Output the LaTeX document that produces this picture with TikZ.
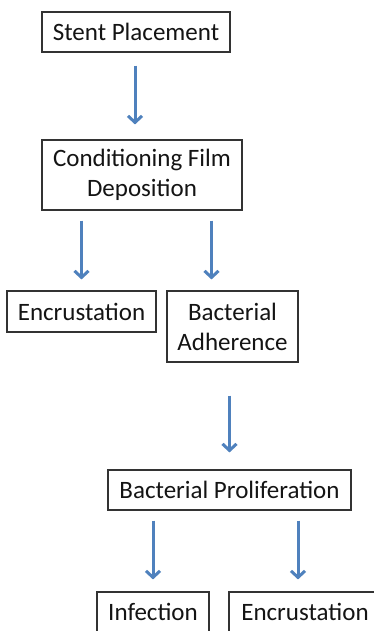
\documentclass[tikz,border=0pt]{standalone}
\usepackage{fontspec}
\setmainfont{Carlito}
\usetikzlibrary{arrows.meta,calc}
\definecolor{arrblue}{HTML}{4F81BD}
\tikzset{
  box/.style={draw=black!80, line width=1.1pt, fill=white, inner sep=0pt, align=center,
    font=\fontsize{25}{30}\selectfont, text=black!92},
  arr/.style={draw=arrblue, line width=3pt, -{Straight Barb[length=6.5pt,width=14pt,line width=3pt]}}
}
\begin{document}
\begin{tikzpicture}[x=1pt,y=-1pt]
\useasboundingbox (0,0) rectangle (374,631);
\fill[white] (0,0) rectangle (374,631);
\clip (0,0) rectangle (374,631);
\node[box, minimum width=188pt, minimum height=40pt] (stent) at (136,32) {Stent Placement};
\node[box, minimum width=200pt, minimum height=70pt] (cond) at (142,175) {Conditioning Film\\Deposition};
\node[box, minimum width=149pt, minimum height=41pt] (enc1) at (81.5,311.5) {Encrustation};
\node[box, minimum width=131pt, minimum height=71pt] (adh) at (232.5,326.5) {Bacterial\\Adherence};
\node[box, minimum width=243pt, minimum height=40pt] (prol) at (229.5,490) {Bacterial Proliferation};
\node[box, minimum width=112pt, minimum height=40pt] (inf) at (153,612) {Infection};
\node[box, minimum width=152pt, minimum height=40pt] (enc2) at (305,612) {Encrustation};

\draw[arr, shorten <=13pt, shorten >=15pt] (stent.south -| 135,0) -- (cond.north -| 135,0);
\draw[arr, shorten <=10pt, shorten >=11pt] (cond.south -| enc1.north) -- (enc1.north);
\draw[arr, shorten <=10pt, shorten >=11pt] ($(cond.south -| adh.north)+(-21,0)$) -- ($(adh.north)+(-21,0)$);
\draw[arr, shorten <=33pt, shorten >=17pt] (adh.south -| prol.north) -- (prol.north);
\draw[arr, shorten <=10pt, shorten >=12pt] (prol.south -| inf.north) -- (inf.north);
\draw[arr, shorten <=10pt, shorten >=12pt] ($(prol.south -| enc2.north)+(-7,0)$) -- ($(enc2.north)+(-7,0)$);
\end{tikzpicture}
\end{document}
